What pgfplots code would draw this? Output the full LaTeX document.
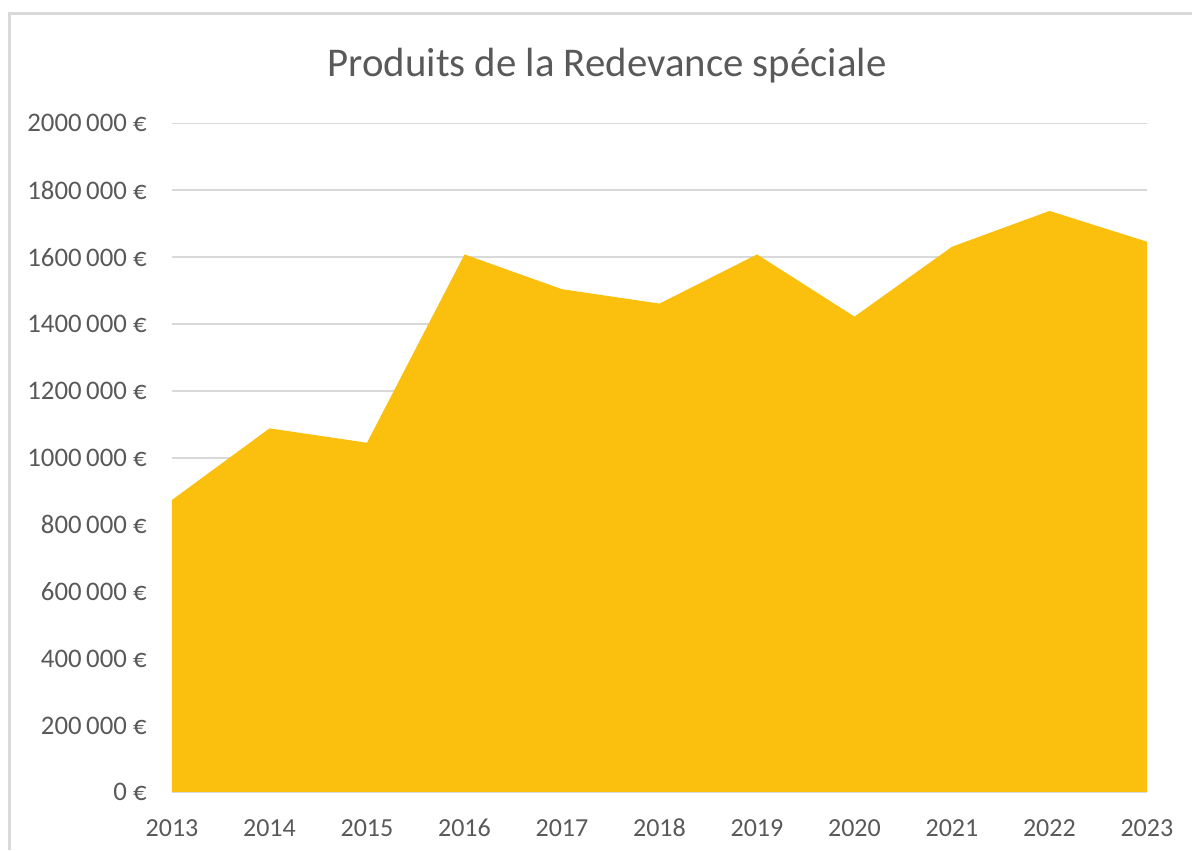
\documentclass[border=0pt]{standalone}
\usepackage{fontspec}
\setmainfont{Carlito}
\usepackage{pgfplots}
\pgfplotsset{compat=1.18}
\definecolor{gold}{RGB}{251,191,14}
\definecolor{txt}{RGB}{89,89,89}
\definecolor{gridc}{RGB}{217,217,217}
\begin{document}
\begin{tikzpicture}
\useasboundingbox (0,0) rectangle (596pt,425pt);
\draw[gridc, line width=1.5pt] (4.75pt,0) -- (4.75pt,418.2pt) -- (596pt,418.2pt);
\node[txt, font=\fontsize{20.4}{22}\selectfont, anchor=base] at (303.5pt,386.5pt) {Produits de la Redevance spéciale};
\begin{axis}[
  at={(86pt,28.85pt)}, anchor=south west,
  scale only axis, width=487.5pt, height=334.5pt,
  xmin=2013, xmax=2023, ymin=0, ymax=2000000,
  xtick={2013,...,2023},
  xticklabels={2013,2014,2015,2016,2017,2018,2019,2020,2021,2022,2023},
  ytick={0,200000,...,2000000},
  yticklabels={0 €,200\,000 €,400\,000 €,600\,000 €,800\,000 €,1000\,000 €,1200\,000 €,1400\,000 €,1600\,000 €,1800\,000 €,2000\,000 €},
  scaled y ticks=false,
  axis line style={draw=none},
  tick style={draw=none},
  ymajorgrids, grid style={gridc, line width=0.75pt},
  xticklabel style={txt, font=\fontsize{13}{15}\selectfont, anchor=base, inner sep=0pt, yshift=-22pt},
  yticklabel style={txt, font=\fontsize{13.4}{15}\selectfont, anchor=east, inner sep=0pt, xshift=-12.5pt},
  clip=false,
]
\addplot[fill=gold, draw=none] coordinates {
  (2013,874000) (2014,1088000) (2015,1045000) (2016,1608000)
  (2017,1504000) (2018,1461000) (2019,1608000) (2020,1422000)
  (2021,1631000) (2022,1738000) (2023,1646000)
} \closedcycle;
\draw[gridc, line width=0.75pt] (axis cs:2013,0) -- (axis cs:2023,0);
\end{axis}
\end{tikzpicture}
\end{document}
